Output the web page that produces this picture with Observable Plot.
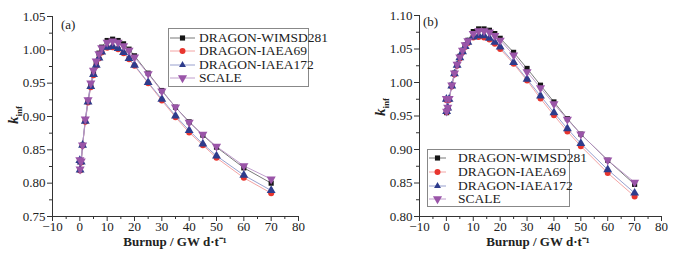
<!DOCTYPE html>
<html>
<head>
<meta charset="utf-8">
<script src="https://cdn.jsdelivr.net/npm/d3@7"></script>
<script src="https://cdn.jsdelivr.net/npm/@observablehq/plot@0.6"></script>
<style>
  body { margin: 0; background: #fff; }
  #wrap { position: relative; width: 676px; height: 254px; font-family: "Liberation Serif", "Times New Roman", serif; color: #222; }
  .panel { position: absolute; top: 0; width: 338px; height: 254px; }
  .lbl { position: absolute; white-space: nowrap; font-family: "Liberation Serif", serif; }
  .xlab { font-weight: bold; font-size: 13px; transform: translate(-50%, -50%); }
  .ylab { font-weight: bold; font-size: 15px; transform: translate(-50%, -50%) rotate(-90deg); }
  .ylab sub { font-size: 9px; }
  .tag { font-size: 13px; }
  .legend { position: absolute; border: 1px solid #888; background: #fff; }
  .legend .row { position: absolute; left: 0; height: 12px; font-size: 13.5px; line-height: 12px; white-space: nowrap; }
  .legend .nm { position: absolute; top: 0; display: block; height: 12px; line-height: 12px; white-space: nowrap; overflow: visible; }
  .legend .mk { position: absolute; top: 0; display: block; height: 12px; }
  .legend svg { display: block; }
</style>
</head>
<body>
<div id="wrap"></div>
<script>
// Burnup steps (GW d/t)
const burnup = [0, 0.1, 0.5, 1, 2, 3, 4, 5, 6, 7, 8, 10, 12, 14, 16, 18, 20, 25, 30, 35, 40, 45, 50, 60, 70];

// Panel (a)
const aWIMSD   = [0.834, 0.820, 0.832, 0.857, 0.895, 0.924, 0.948, 0.968, 0.982, 0.995, 1.004, 1.014, 1.016, 1.014, 1.009, 1.001, 0.991, 0.965, 0.939, 0.914, 0.892, 0.872, 0.854, 0.823, 0.800];
const aIAEA69  = [0.833, 0.819, 0.831, 0.856, 0.892, 0.921, 0.944, 0.962, 0.976, 0.987, 0.996, 1.003, 1.004, 1.001, 0.995, 0.986, 0.976, 0.950, 0.924, 0.899, 0.876, 0.857, 0.838, 0.808, 0.785];
const aIAEA172 = [0.834, 0.820, 0.832, 0.857, 0.893, 0.922, 0.945, 0.963, 0.977, 0.988, 0.997, 1.004, 1.005, 1.002, 0.996, 0.987, 0.977, 0.951, 0.926, 0.901, 0.879, 0.859, 0.841, 0.812, 0.789];
const aSCALE   = [0.835, 0.821, 0.833, 0.857, 0.896, 0.925, 0.950, 0.969, 0.983, 0.994, 1.003, 1.011, 1.013, 1.011, 1.006, 0.999, 0.989, 0.964, 0.938, 0.914, 0.891, 0.873, 0.855, 0.826, 0.806];

// Panel (b)
const bWIMSD   = [0.975, 0.955, 0.962, 0.975, 0.996, 1.014, 1.027, 1.039, 1.048, 1.056, 1.063, 1.076, 1.080, 1.080, 1.078, 1.073, 1.066, 1.045, 1.021, 0.996, 0.971, 0.946, 0.923, 0.884, 0.848];
const bIAEA69  = [0.974, 0.956, 0.961, 0.974, 0.994, 1.012, 1.025, 1.036, 1.045, 1.053, 1.059, 1.067, 1.068, 1.067, 1.064, 1.058, 1.050, 1.028, 1.003, 0.976, 0.951, 0.927, 0.905, 0.865, 0.830];
const bIAEA172 = [0.975, 0.957, 0.962, 0.975, 0.995, 1.013, 1.026, 1.037, 1.046, 1.054, 1.060, 1.068, 1.070, 1.070, 1.066, 1.060, 1.053, 1.030, 1.005, 0.980, 0.955, 0.931, 0.909, 0.870, 0.835];
const bSCALE   = [0.976, 0.957, 0.963, 0.976, 0.996, 1.014, 1.027, 1.038, 1.048, 1.056, 1.062, 1.073, 1.077, 1.077, 1.075, 1.070, 1.063, 1.041, 1.016, 0.992, 0.968, 0.945, 0.923, 0.884, 0.851];

const seriesNames = ["DRAGON-WIMSD281", "DRAGON-IAEA69", "DRAGON-IAEA172", "SCALE"];
const xTicks = [-10, 0, 10, 20, 30, 40, 50, 60, 70, 80];
const aYTicks = [0.75, 0.80, 0.85, 0.90, 0.95, 1.00, 1.05];
const bYTicks = [0.80, 0.85, 0.90, 0.95, 1.00, 1.05, 1.10];
const xLabel = "Burnup / GW d\u00b7t\u207b\u00b9";

// styles
const markFill = ["#151515", "#e8352e", "#2e3c8c", "#9a55a8"];
const lineStroke = ["#6a6a6a", "#f29a9a", "#8c95c8", "#b993c6"];
const downTriangle = {
  draw(ctx, size) {
    const s = Math.sqrt(size / (Math.sqrt(3) / 4)); // side
    const h = s * Math.sqrt(3) / 2;
    ctx.moveTo(-s / 2, -h / 3);
    ctx.lineTo(s / 2, -h / 3);
    ctx.lineTo(0, 2 * h / 3);
    ctx.closePath();
  }
};
const symbols = ["square", "circle", "triangle", downTriangle];
const radii = [2.9, 3.0, 3.3, 3.4];

function rows(values) {
  return burnup.map((b, i) => ({x: b, y: values[i]}));
}

function minor(ticks) {
  const out = [];
  for (let i = 0; i < ticks.length - 1; i++) out.push((ticks[i] + ticks[i + 1]) / 2);
  return out;
}

function makePanel(series, yTicks, m) {
  const yDom = [yTicks[0], yTicks[yTicks.length - 1]];
  const marks = [];
  series.forEach((vals, k) => {
    marks.push(Plot.line(rows(vals), {x: "x", y: "y", stroke: lineStroke[k], strokeWidth: 0.9}));
  });
  series.forEach((vals, k) => {
    marks.push(Plot.dot(rows(vals), {x: "x", y: "y", symbol: symbols[k], r: radii[k], fill: markFill[k], stroke: "none"}));
  });
  marks.push(
    Plot.ruleX([xTicks[0]], {stroke: "#333", strokeWidth: 1}),
    Plot.ruleY([yDom[0]], {stroke: "#333", strokeWidth: 1}),
    Plot.axisX({ticks: xTicks, tickSize: 5, tickPadding: 0, tickFormat: d => d < 0 ? "\u2212" + Math.abs(d) : String(d), label: null, stroke: "#333"}),
    Plot.axisX({ticks: minor(xTicks), tickSize: 3, tickFormat: null, text: null, label: null, stroke: "#333"}),
    Plot.axisY({ticks: yTicks, tickSize: 5, tickPadding: 2, tickFormat: d => d.toFixed(2), label: null, stroke: "#333"}),
    Plot.axisY({ticks: minor(yTicks), tickSize: 3, tickFormat: null, text: null, label: null, stroke: "#333"})
  );
  return Plot.plot({
    width: 338, height: 254,
    marginLeft: m.left, marginRight: m.right, marginTop: m.top, marginBottom: m.bottom,
    x: {domain: [xTicks[0], xTicks[xTicks.length - 1]]},
    y: {domain: yDom},
    style: {fontFamily: "'Liberation Serif', serif", fontSize: "13px", color: "#222", background: "transparent", overflow: "visible"},
    marks
  });
}

const wrap = document.getElementById("wrap");

function addPanel(left, svg) {
  const d = document.createElement("div");
  d.className = "panel";
  d.style.left = left + "px";
  d.appendChild(svg);
  wrap.appendChild(d);
}

addPanel(0, makePanel([aWIMSD, aIAEA69, aIAEA172, aSCALE], aYTicks, {left: 52, right: 40, top: 16, bottom: 38}));
addPanel(338, makePanel([bWIMSD, bIAEA69, bIAEA172, bSCALE], bYTicks, {left: 81, right: 15, top: 15, bottom: 38}));

function addLabel(cls, html, x, y) {
  const d = document.createElement("div");
  d.className = "lbl " + cls;
  d.innerHTML = html;
  d.style.left = x + "px";
  d.style.top = y + "px";
  wrap.appendChild(d);
}
addLabel("xlab", xLabel, 175, 241);
addLabel("xlab", xLabel, 538, 241);
addLabel("ylab", "<i>k</i><sub>inf</sub>", 14, 115);
addLabel("ylab", "<i>k</i><sub>inf</sub>", 381, 107);
addLabel("tag", "(a)", 61, 17);
addLabel("tag", "(b)", 423, 14);

function markerSVG(k, lineW) {
  const sym = symbols[k];
  const typeMap = {square: d3.symbolSquare, circle: d3.symbolCircle, triangle: d3.symbolTriangle2};
  const type = typeof sym === "string" ? typeMap[sym] : sym;
  const r = radii[k];
  const path = d3.symbol(type, Math.PI * r * r)();
  return `<svg width="${lineW}" height="12" style="overflow:visible"><line x1="0" x2="${lineW}" y1="6" y2="6" stroke="${lineStroke[k]}" stroke-width="0.9"/>` +
         `<path d="${path}" transform="translate(${lineW / 2},6)" fill="${markFill[k]}"/></svg>`;
}

function addLegend(box, lineX, lineW, textX, rowYs) {
  const lg = document.createElement("div");
  lg.className = "legend";
  lg.style.left = box.left + "px";
  lg.style.top = box.top + "px";
  lg.style.width = box.width + "px";
  lg.style.height = box.height + "px";
  seriesNames.forEach((name, k) => {
    const row = document.createElement("div");
    row.className = "row";
    row.style.top = (rowYs[k] - box.top - 1 - 6) + "px";
    row.style.width = (box.width) + "px";
    row.innerHTML = `<div class="mk" style="left:${lineX - box.left - 1}px">${markerSVG(k, lineW)}</div>` +
                    `<div class="nm" style="left:${textX - box.left - 1}px">${name}</div>`;
    lg.appendChild(row);
  });
  wrap.appendChild(lg);
}
addLegend({left: 168, top: 28, width: 139, height: 57}, 170, 25, 199, [37.7, 51.2, 64.7, 78.2]);
addLegend({left: 427, top: 149, width: 141, height: 56}, 429, 17, 458, [158.4, 172, 185.6, 199.2]);
</script>
</body>
</html>
